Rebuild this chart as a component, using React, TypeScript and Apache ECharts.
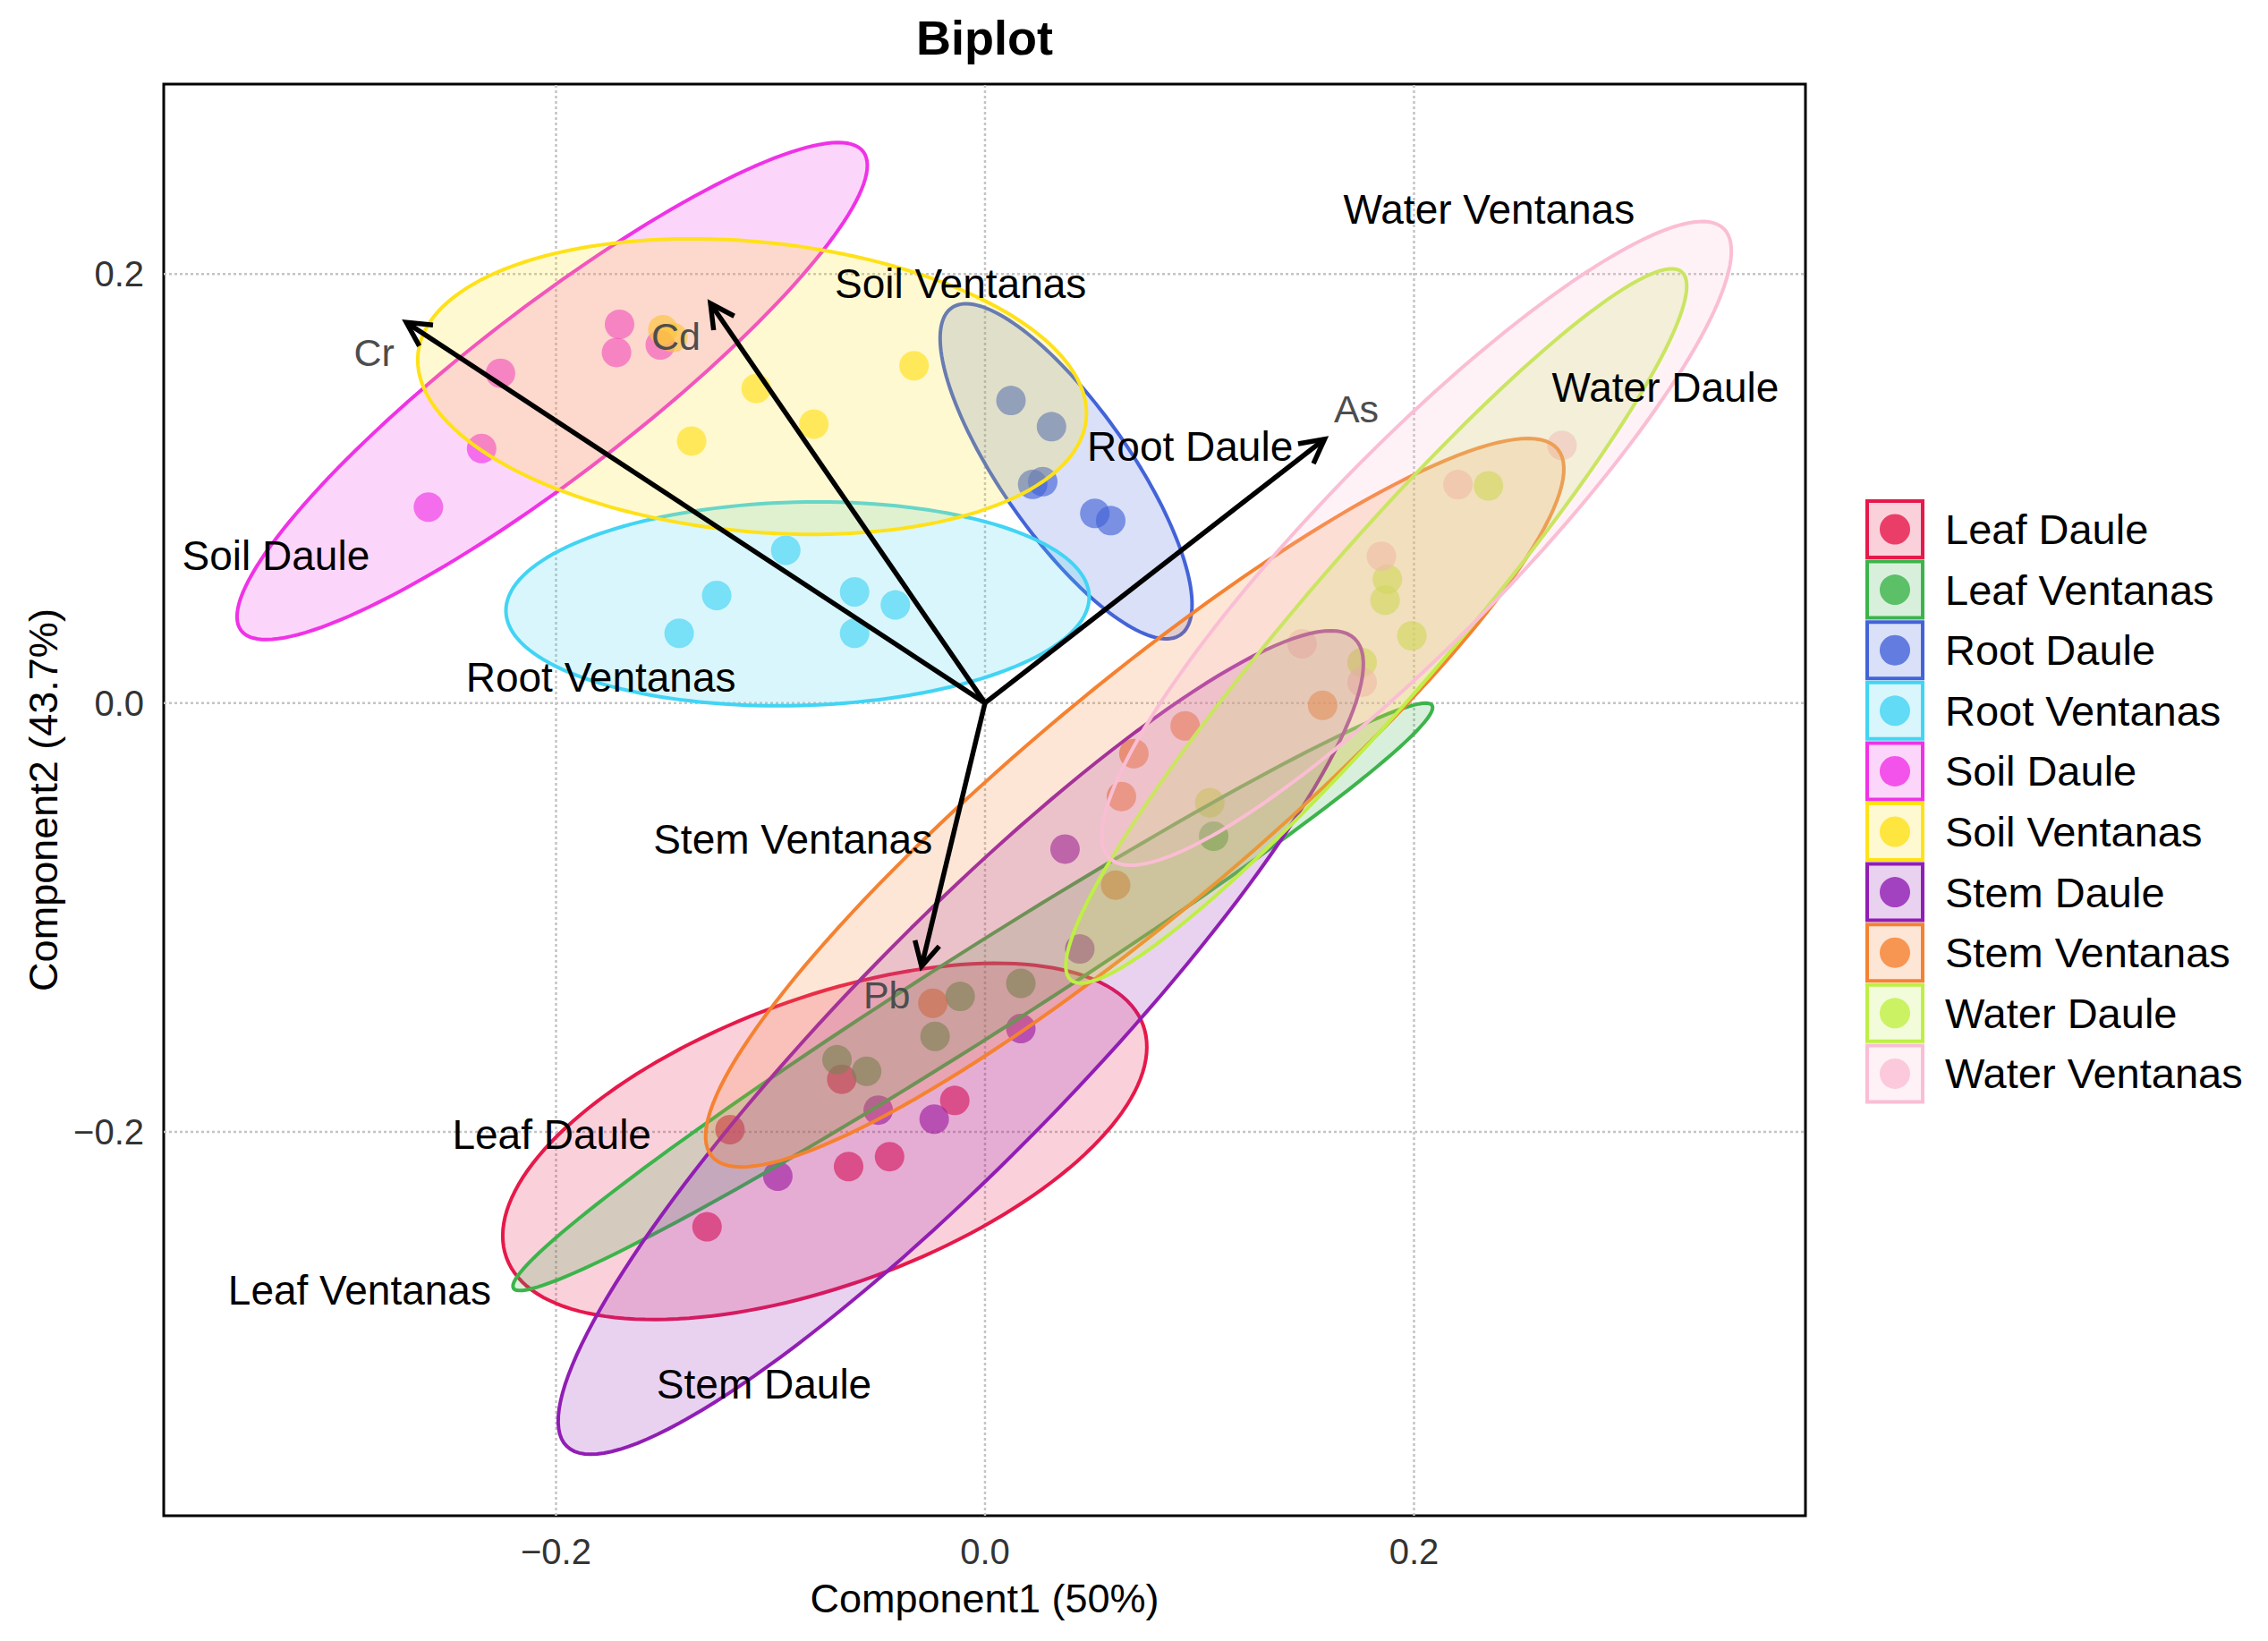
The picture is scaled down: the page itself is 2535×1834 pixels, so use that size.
import React, { useEffect, useRef } from "react";
import * as echarts from "echarts";

// ---------------- data ----------------
const categories = [
  "Leaf Daule",
  "Leaf Ventanas",
  "Root Daule",
  "Root Ventanas",
  "Soil Daule",
  "Soil Ventanas",
  "Stem Daule",
  "Stem Ventanas",
  "Water Daule",
  "Water Ventanas",
];

const colors = [
  "#e6194B",
  "#3cb44b",
  "#4363d8",
  "#42d4f4",
  "#f032e6",
  "#ffe119",
  "#911eb4",
  "#f58231",
  "#bfef45",
  "#fabed4",
];

// sample scores [Component1, Component2]
const leafDaule = [
  [-0.1189, -0.1989],
  [-0.0668, -0.1754],
  [-0.1296, -0.2442],
  [-0.0636, -0.2161],
  [-0.0445, -0.2115],
  [-0.0141, -0.1853],
];
const leafVentanas = [
  [-0.069, -0.1663],
  [-0.0552, -0.1717],
  [-0.0233, -0.1554],
  [-0.0116, -0.1368],
  [0.0167, -0.1307],
  [0.1066, -0.0621],
];
const rootDaule = [
  [0.0121, 0.141],
  [0.031, 0.1288],
  [0.0222, 0.1019],
  [0.0269, 0.1032],
  [0.0512, 0.0884],
  [0.0586, 0.085],
];
const rootVentanas = [
  [-0.0929, 0.0712],
  [-0.1251, 0.0501],
  [-0.1426, 0.0325],
  [-0.0608, 0.0518],
  [-0.0418, 0.0457],
  [-0.0608, 0.0325],
];
const soilDaule = [
  [-0.1704, 0.1765],
  [-0.1718, 0.1634],
  [-0.1514, 0.1669],
  [-0.2259, 0.1537],
  [-0.2347, 0.1186],
  [-0.2595, 0.0913],
];
const soilVentanas = [
  [-0.1455, 0.1704],
  [-0.1502, 0.174],
  [-0.1067, 0.1466],
  [-0.0798, 0.13],
  [-0.1368, 0.1221],
  [-0.0331, 0.1572],
];
const stemDaule = [
  [0.0373, -0.0681],
  [0.0442, -0.1147],
  [0.0167, -0.1518],
  [-0.0498, -0.1898],
  [-0.0237, -0.194],
  [-0.0966, -0.2206],
];
const stemVentanas = [
  [0.0933, -0.0107],
  [0.0694, -0.0236],
  [0.0636, -0.0436],
  [0.1574, -0.0011],
  [0.0609, -0.0849],
  [-0.0243, -0.14],
];
const waterDaule = [
  [0.2347, 0.1012],
  [0.1876, 0.0577],
  [0.1865, 0.0479],
  [0.199, 0.0313],
  [0.1758, 0.0189],
  [0.1048, -0.0465],
];
const waterVentanas = [
  [0.269, 0.1201],
  [0.2205, 0.1018],
  [0.1848, 0.0684],
  [0.1478, 0.0276],
  [0.1758, 0.0097],
];

const groupPoints = [
  leafDaule,
  leafVentanas,
  rootDaule,
  rootVentanas,
  soilDaule,
  soilVentanas,
  stemDaule,
  stemVentanas,
  waterDaule,
  waterVentanas,
];

// confidence ellipses: [centerX, centerY, semiMajor, semiMinor, angleDeg]
const ellipses = [
  [-0.0747, -0.2044, 0.158, 0.0669, 20.1],
  [-0.0057, -0.137, 0.2536, 0.02, 32.4],
  [0.0378, 0.108, 0.093, 0.03, -55],
  [-0.0874, 0.0462, 0.136, 0.0474, 1.5],
  [-0.2018, 0.1454, 0.183, 0.039, 37.6],
  [-0.1086, 0.1475, 0.1565, 0.0675, -5.6],
  [-0.0113, -0.1583, 0.263, 0.054, 45.7],
  [0.0698, -0.0465, 0.257, 0.053, 39.9],
  [0.1824, 0.0359, 0.218, 0.034, 49.2],
  [0.2012, 0.0744, 0.205, 0.045, 45.7],
];

// group label anchors (data coordinates)
const groupLabelPos = [
  [-0.202, -0.201],
  [-0.2916, -0.2739],
  [0.0956, 0.1194],
  [-0.1791, 0.0121],
  [-0.3306, 0.0688],
  [-0.0114, 0.1956],
  [-0.103, -0.3177],
  [-0.0896, -0.0634],
  [0.3172, 0.147],
  [0.235, 0.23],
];

// variable loadings
const variables = ["Cr", "Cd", "As", "Pb"];
const loadings = [
  [-0.2698, 0.1774],
  [-0.128, 0.1862],
  [0.1583, 0.123],
  [-0.0296, -0.1228],
];
const variableLabelPos = [
  [-0.2848, 0.1632],
  [-0.1441, 0.1707],
  [0.1731, 0.1369],
  [-0.0458, -0.1363],
];

const xTicks = [-0.2, 0, 0.2];
const yTicks = [-0.2, 0, 0.2];
const xRange = [-0.3829, 0.3825];
const yRange = [-0.3789, 0.2885];

// ---------------- helpers ----------------
const FONT = '"Liberation Sans", Arial, Helvetica, sans-serif';

function rgba(hex: string, a: number) {
  const h = hex.replace("#", "");
  const r = parseInt(h.slice(0, 2), 16);
  const g = parseInt(h.slice(2, 4), 16);
  const b = parseInt(h.slice(4, 6), 16);
  return `rgba(${r},${g},${b},${a})`;
}

function fmtTick(v: number) {
  const s = Math.abs(v).toFixed(1);
  return v < -1e-9 ? "\u2212" + s : s;
}

// layout constants (pixels)
const W = 2535;
const H = 1834;
const GRID = { left: 183, top: 94, right: 517, bottom: 140 };
const LEG = { x: 2087, y0: 560, step: 67.6, box: 62, boxH: 63, textX: 2174 };

function buildOption() {
  const scatterSeries = categories.map((name, i) => ({
    type: "scatter",
    name,
    z: 2,
    symbol: "circle",
    symbolSize: 33,
    data: groupPoints[i],
    itemStyle: { color: rgba(colors[i], 0.8) },
    silent: true,
  }));

  const gridX = {
    type: "custom",
    z: 1,
    silent: true,
    data: xTicks.map((v) => [v, 0]),
    renderItem: (params: any, api: any) => {
      const v = api.value(0);
      const p1 = api.coord([v, yRange[0]]);
      const p2 = api.coord([v, yRange[1]]);
      return {
        type: "line",
        shape: { x1: p1[0], y1: p1[1], x2: p2[0], y2: p2[1] },
        style: { stroke: "#c4c4c4", lineWidth: 2.5, lineDash: [3, 3] },
      };
    },
  };
  const gridY = {
    type: "custom",
    z: 1,
    silent: true,
    data: yTicks.map((v) => [0, v]),
    renderItem: (params: any, api: any) => {
      const v = api.value(1);
      const p1 = api.coord([xRange[0], v]);
      const p2 = api.coord([xRange[1], v]);
      return {
        type: "line",
        shape: { x1: p1[0], y1: p1[1], x2: p2[0], y2: p2[1] },
        style: { stroke: "#c4c4c4", lineWidth: 2.5, lineDash: [3, 3] },
      };
    },
  };

  const ellipseSeries = {
    type: "custom",
    z: 3,
    silent: true,
    data: ellipses,
    renderItem: (params: any, api: any) => {
      const idx = params.dataIndex;
      const cx = api.value(0);
      const cy = api.value(1);
      const a = api.value(2);
      const b = api.value(3);
      const th = (api.value(4) * Math.PI) / 180;
      const pts: number[][] = [];
      const N = 160;
      for (let k = 0; k < N; k++) {
        const t = (2 * Math.PI * k) / N;
        const x = cx + a * Math.cos(th) * Math.cos(t) - b * Math.sin(th) * Math.sin(t);
        const y = cy + a * Math.sin(th) * Math.cos(t) + b * Math.cos(th) * Math.sin(t);
        pts.push(api.coord([x, y]));
      }
      return {
        type: "polygon",
        shape: { points: pts },
        style: { fill: rgba(colors[idx], 0.2), stroke: colors[idx], lineWidth: 4 },
      };
    },
  };

  const arrowSeries = {
    type: "custom",
    z: 4,
    silent: true,
    data: loadings,
    renderItem: (params: any, api: any) => {
      const o = api.coord([0, 0]);
      const p = api.coord([api.value(0), api.value(1)]);
      const ang = Math.atan2(p[1] - o[1], p[0] - o[0]);
      const L = 30;
      const sp = Math.PI / 6.5;
      const h1 = [p[0] - L * Math.cos(ang - sp), p[1] - L * Math.sin(ang - sp)];
      const h2 = [p[0] - L * Math.cos(ang + sp), p[1] - L * Math.sin(ang + sp)];
      return {
        type: "group",
        children: [
          {
            type: "line",
            shape: { x1: o[0], y1: o[1], x2: p[0], y2: p[1] },
            style: { stroke: "#000", lineWidth: 5.5 },
          },
          {
            type: "polyline",
            shape: { points: [h1, p, h2] },
            style: { stroke: "#000", lineWidth: 5.5, fill: null },
          },
        ],
      };
    },
  };

  const varLabelSeries = {
    type: "custom",
    z: 5,
    silent: true,
    data: variableLabelPos,
    renderItem: (params: any, api: any) => {
      const p = api.coord([api.value(0), api.value(1)]);
      return {
        type: "text",
        x: p[0],
        y: p[1],
        style: {
          text: variables[params.dataIndex],
          fill: "#4d4d4d",
          fontSize: 43,
          fontFamily: FONT,
          align: "center",
          verticalAlign: "middle",
        },
      };
    },
  };

  const groupLabelSeries = {
    type: "custom",
    z: 5,
    silent: true,
    data: groupLabelPos,
    renderItem: (params: any, api: any) => {
      const p = api.coord([api.value(0), api.value(1)]);
      return {
        type: "text",
        x: p[0],
        y: p[1],
        style: {
          text: categories[params.dataIndex],
          fill: "#000",
          fontSize: 46,
          fontFamily: FONT,
          align: "center",
          verticalAlign: "middle",
        },
      };
    },
  };

  const legendGraphics: any[] = [];
  categories.forEach((name, i) => {
    const cy = LEG.y0 + i * LEG.step + LEG.boxH / 2;
    legendGraphics.push({
      type: "rect",
      shape: { x: LEG.x, y: cy - LEG.boxH / 2, width: LEG.box, height: LEG.boxH },
      style: { fill: rgba(colors[i], 0.2), stroke: colors[i], lineWidth: 4 },
      silent: true,
    });
    legendGraphics.push({
      type: "circle",
      shape: { cx: LEG.x + LEG.box / 2, cy, r: 17 },
      style: { fill: rgba(colors[i], 0.8) },
      silent: true,
    });
    legendGraphics.push({
      type: "text",
      x: LEG.textX,
      y: cy,
      style: {
        text: name,
        fill: "#000",
        fontSize: 47,
        fontFamily: FONT,
        align: "left",
        verticalAlign: "middle",
      },
      silent: true,
    });
  });

  const plotCenterX = GRID.left + (W - GRID.left - GRID.right) / 2;

  return {
    animation: false,
    backgroundColor: "#ffffff",
    textStyle: { fontFamily: FONT },
    grid: {
      ...GRID,
      show: true,
      borderColor: "#000",
      borderWidth: 3,
      backgroundColor: "transparent",
      containLabel: false,
    },
    xAxis: {
      type: "value",
      min: xRange[0],
      max: xRange[1],
      name: "Component1 (50%)",
      nameLocation: "middle",
      nameGap: 70,
      nameTextStyle: { fontSize: 45, color: "#000", fontFamily: FONT },
      axisLine: { show: false },
      axisTick: { show: false },
      splitLine: { show: false },
      axisLabel: {
        customValues: xTicks,
        formatter: (v: number) => fmtTick(v),
        fontSize: 40,
        color: "#333",
        margin: 20,
        fontFamily: FONT,
      },
    },
    yAxis: {
      type: "value",
      min: yRange[0],
      max: yRange[1],
      name: "Component2 (43.7%)",
      nameLocation: "middle",
      nameGap: 104,
      nameRotate: 90,
      nameTextStyle: { fontSize: 45, color: "#000", fontFamily: FONT },
      axisLine: { show: false },
      axisTick: { show: false },
      splitLine: { show: false },
      axisLabel: {
        customValues: yTicks,
        formatter: (v: number) => fmtTick(v),
        fontSize: 40,
        color: "#333",
        margin: 22,
        fontFamily: FONT,
      },
    },
    graphic: [
      {
        type: "text",
        x: plotCenterX,
        y: 42,
        style: {
          text: "Biplot",
          fill: "#000",
          fontSize: 54,
          fontWeight: "bold",
          fontFamily: FONT,
          align: "center",
          verticalAlign: "middle",
        },
        silent: true,
      },
      ...legendGraphics,
    ],
    series: [
      gridX,
      gridY,
      ...scatterSeries,
      ellipseSeries,
      arrowSeries,
      varLabelSeries,
      groupLabelSeries,
    ],
  };
}

export default function App() {
  const ref = useRef<HTMLDivElement>(null);
  useEffect(() => {
    if (!ref.current) return;
    const chart = echarts.init(ref.current, null, { renderer: "svg" });
    chart.setOption(buildOption() as any);
    return () => chart.dispose();
  }, []);
  return (
    <div
      ref={ref}
      style={{ position: "absolute", left: 0, top: 0, width: W, height: H, background: "#fff" }}
    />
  );
}
